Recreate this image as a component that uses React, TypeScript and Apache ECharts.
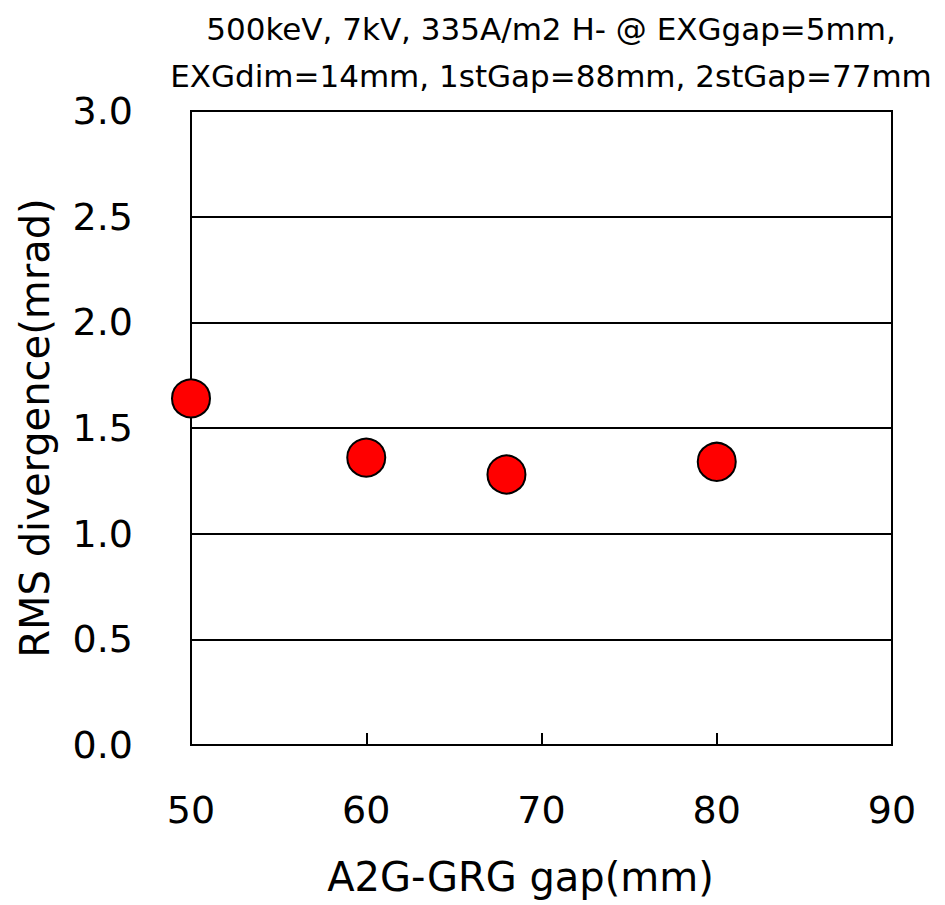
import React, { useEffect, useRef } from "react";
import * as echarts from "echarts";

const titleLines = [
  "500keV, 7kV, 335A/m2 H- @ EXGgap=5mm,",
  "EXGdim=14mm, 1stGap=88mm, 2stGap=77mm",
];
const xName = "A2G-GRG gap(mm)";
const yName = "RMS divergence(mrad)";
const gapValues = [50, 60, 68, 80];
const divergenceValues = [1.64, 1.36, 1.28, 1.34];

const FONT = "'DejaVu Sans', sans-serif";

export default function App() {
  const ref = useRef<HTMLDivElement>(null);
  useEffect(() => {
    document.body.style.margin = "0";
    const chart = echarts.init(ref.current!, null, { renderer: "svg" });
    chart.setOption({
      animation: false,
      backgroundColor: "#ffffff",
      title: {
        text: titleLines.join("\n"),
        left: 551,
        top: 5,
        padding: 0,
        textAlign: "center",
        textStyle: {
          fontFamily: FONT,
          fontSize: 31,
          fontWeight: "normal",
          color: "#000",
          lineHeight: 47,
        },
      },
      grid: {
        left: 191,
        top: 111,
        width: 701,
        height: 634,
        show: true,
        borderColor: "#000",
        borderWidth: 2,
        backgroundColor: "#fff",
        containLabel: false,
        outerBoundsMode: "none",
      },
      xAxis: {
        type: "value",
        min: 50,
        max: 90,
        interval: 10,
        name: xName,
        nameLocation: "middle",
        nameGap: 112,
        nameTextStyle: { fontFamily: FONT, fontSize: 40, color: "#000", padding: [0, 42, 0, 0] },
        axisLine: { show: true, lineStyle: { color: "#000", width: 2 } },
        axisTick: { show: true, inside: true, length: 12, lineStyle: { color: "#000", width: 2 } },
        axisLabel: { fontFamily: FONT, fontSize: 38, color: "#000", margin: 46 },
        splitLine: { show: false },
      },
      yAxis: {
        type: "value",
        min: 0,
        max: 3,
        interval: 0.5,
        name: yName,
        nameLocation: "middle",
        nameGap: 136,
        nameRotate: 90,
        nameTextStyle: { fontFamily: FONT, fontSize: 40, color: "#000" },
        axisLine: { show: true, lineStyle: { color: "#000", width: 2 } },
        axisTick: { show: false },
        axisLabel: {
          fontFamily: FONT,
          fontSize: 38,
          color: "#000",
          margin: 58,
          formatter: (v: number) => v.toFixed(1),
        },
        splitLine: { show: true, lineStyle: { color: "#000", width: 2 } },
      },
      series: [
        {
          type: "scatter",
          data: gapValues.map((g, i) => [g, divergenceValues[i]]),
          symbol: "circle",
          symbolSize: 38,
          itemStyle: { color: "#ff0000", borderColor: "#000", borderWidth: 2, opacity: 1 },
          z: 10,
        },
      ],
    });
    return () => chart.dispose();
  }, []);
  return <div ref={ref} style={{ width: 945, height: 905 }} />;
}
